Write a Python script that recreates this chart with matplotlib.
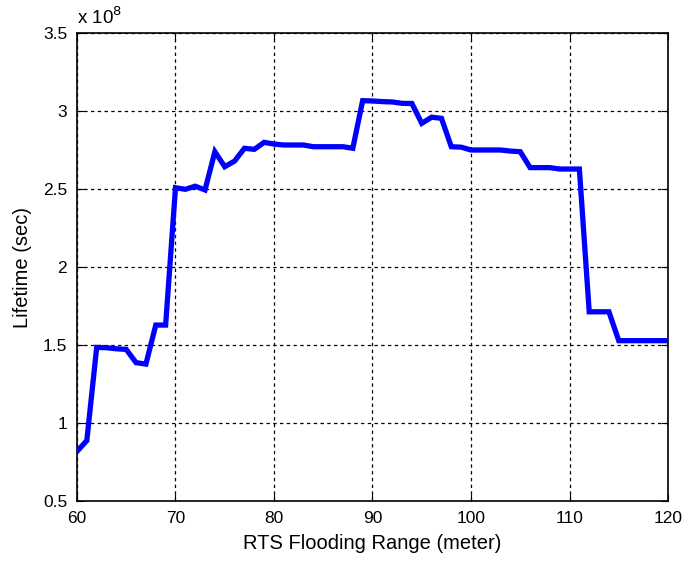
import matplotlib
matplotlib.use('Agg')
import matplotlib.pyplot as plt

# RTS flooding range (meter) vs network lifetime (sec, x 1e8)
flooding_range = list(range(60, 121))
lifetime_1e8 = [
    0.82, 0.89, 1.487, 1.485, 1.478, 1.474, 1.389, 1.38, 1.63, 1.63,   # 60-69
    2.51, 2.50, 2.52, 2.496, 2.741, 2.645, 2.681, 2.763, 2.756, 2.801,  # 70-79
    2.79, 2.784, 2.784, 2.784, 2.773, 2.773, 2.773, 2.773, 2.763, 3.068,  # 80-89
    3.066, 3.062, 3.06, 3.051, 3.05, 2.923, 2.962, 2.955, 2.773, 2.77,  # 90-99
    2.752, 2.752, 2.752, 2.752, 2.745, 2.741, 2.639, 2.639, 2.639, 2.63,  # 100-109
    2.63, 2.63, 1.715, 1.715, 1.715, 1.53, 1.53, 1.53, 1.53, 1.53,  # 110-119
    1.53,  # 120
]
x_ticks = [60, 70, 80, 90, 100, 110, 120]
y_ticks = [0.5, 1, 1.5, 2, 2.5, 3, 3.5]
y_tick_labels = ['0.5', '1', '1.5', '2', '2.5', '3', '3.5']

plt.rcParams['font.family'] = ['Liberation Sans', 'DejaVu Sans']

fig = plt.figure(figsize=(6.86, 5.64), dpi=100)
ax = fig.add_axes([0.1122, 0.111, 0.8616, 0.830])

ax.plot(flooding_range, lifetime_1e8, color='#0000ff', linewidth=3.8,
        solid_joinstyle='miter', zorder=3)

ax.set_xlim(60, 120)
ax.set_ylim(0.5, 3.5)
ax.set_xticks(x_ticks)
ax.set_yticks(y_ticks)
ax.set_yticklabels(y_tick_labels)

ax.grid(True, color='black', linestyle=(0, (2.7, 2.7)), linewidth=0.9)
ax.tick_params(direction='in', length=5, width=0.8, labelsize=12.5,
               top=True, right=True, pad=7)
for sp in ax.spines.values():
    sp.set_linewidth(1.2)

ax.set_xlabel('RTS Flooding Range (meter)', fontsize=14.5, labelpad=6)
ax.set_ylabel('Lifetime (sec)', fontsize=14.5, labelpad=8)

# exponent label as drawn by MATLAB
ax.text(0.0, 1.012, r'x 10$^{8}$', transform=ax.transAxes,
        fontsize=13.5, ha='left', va='bottom')

fig.savefig('out.png', dpi=100)
